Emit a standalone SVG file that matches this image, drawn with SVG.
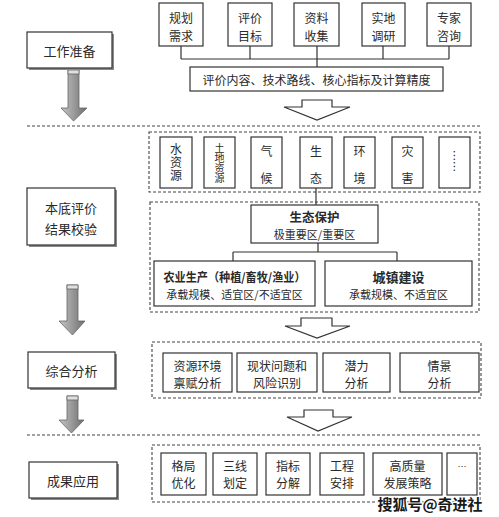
<svg xmlns="http://www.w3.org/2000/svg" width="499" height="517" viewBox="0 0 499 517">
<style>
text{font-family:"Noto Sans CJK SC","Noto Sans",sans-serif;fill:#2a2a2a;text-anchor:middle;dominant-baseline:central}
.v{writing-mode:vertical-rl}
.b{fill:#fff;stroke:#333;stroke-width:1.2}
.sh{fill:#8a8a8a}
.grp{fill:none;stroke:#444;stroke-width:1.1;stroke-dasharray:3 2}
.div{fill:none;stroke:#444;stroke-width:1.1;stroke-dasharray:3 2}
.ln{fill:none;stroke:#333;stroke-width:1.2}
.oa{fill:#fff;stroke:#333;stroke-width:1.2;stroke-linejoin:miter}
.ga{fill:url(#gg);stroke:#666;stroke-width:0.8}
.t12{font-size:12px}
.t13{font-size:13px}
.t11{font-size:11px}
.t9{font-size:9px}
.bd{font-weight:bold}
</style>
<defs>
<linearGradient id="gg" x1="0" y1="0" x2="1" y2="0">
<stop offset="0" stop-color="#c4c4c4"/>
<stop offset="0.5" stop-color="#9a9a9a"/>
<stop offset="1" stop-color="#6e6e6e"/>
</linearGradient>
</defs>
<rect width="499" height="517" fill="#fff"/>

<!-- dividers -->
<line class="div" x1="27" y1="126" x2="481" y2="126"/>
<line class="div" x1="27" y1="435" x2="481" y2="435"/>

<!-- group boxes -->
<rect class="grp" x="149" y="132" width="331" height="60"/>
<rect class="grp" x="150" y="202" width="329" height="110"/>
<rect class="grp" x="152" y="342" width="329" height="56"/>
<rect class="grp" x="152" y="445" width="328" height="57"/>

<!-- connectors -->
<g id="connectors">
<path class="ln" d="M181 46V59M250 46V59M383 46V59M449 46V59M181 59H449M317 46V67"/>
<path class="ln" d="M316 188V205"/>
<path class="ln" d="M318 243V252M233 252H397M233 252V261M397 252V261"/>
<polygon class="oa" points="302,100 332,100 332,107 350,107 317,120 284,107 302,107"/>
<polygon class="oa" points="301,318 332,318 332,326 350,326 317,338 285,326 301,326"/>
<polygon class="oa" points="304,410 333,410 333,417 352,417 318,431 287,417 304,417"/>
<polygon class="ga" points="68,70 79,70 79,108 87,108 73.5,121 61,108 68,108"/>
<rect x="68" y="70" width="11" height="4" fill="#e0e0e0" stroke="#666" stroke-width="0.8"/>
<polygon class="ga" points="67,285 78,285 78,321 85,321 72.5,335 59,321 67,321"/>
<rect x="67" y="285" width="11" height="4" fill="#e0e0e0" stroke="#666" stroke-width="0.8"/>
<polygon class="ga" points="67,396 78,396 78,420 84,420 71.5,433 59,420 67,420"/>
<rect x="67" y="396" width="11" height="4" fill="#e0e0e0" stroke="#666" stroke-width="0.8"/>
</g>

<!-- left stage boxes -->
<g id="stage1">
<rect class="sh" x="29" y="34" width="85" height="36"/>
<rect class="b" x="27" y="32" width="85" height="36"/>
<text class="t13" x="69.5" y="50">工作准备</text>
</g>
<g id="stage2">
<rect class="sh" x="29" y="190" width="88" height="57"/>
<rect class="b" x="27" y="188" width="88" height="57"/>
<text class="t13" x="71" y="207">本底评价</text>
<text class="t13" x="71" y="228">结果校验</text>
</g>
<g id="stage3">
<rect class="sh" x="30" y="354" width="87" height="36"/>
<rect class="b" x="28" y="352" width="87" height="36"/>
<text class="t13" x="71.5" y="370">综合分析</text>
</g>
<g id="stage4">
<rect class="sh" x="31" y="464" width="88" height="36"/>
<rect class="b" x="29" y="462" width="88" height="36"/>
<text class="t13" x="73" y="480">成果应用</text>
</g>

<!-- top row -->
<g id="n-guihua"><rect class="b" x="159" y="3" width="44" height="43"/><text class="t12" x="181" y="17">规划</text><text class="t12" x="181" y="35">需求</text></g>
<g id="n-pingjia"><rect class="b" x="228" y="3" width="44" height="43"/><text class="t12" x="250" y="17">评价</text><text class="t12" x="250" y="35">目标</text></g>
<g id="n-ziliao"><rect class="b" x="294" y="3" width="45" height="43"/><text class="t12" x="316.5" y="17">资料</text><text class="t12" x="316.5" y="35">收集</text></g>
<g id="n-shidi"><rect class="b" x="362" y="3" width="43" height="43"/><text class="t12" x="383.5" y="17">实地</text><text class="t12" x="383.5" y="35">调研</text></g>
<g id="n-zhuanjia"><rect class="b" x="427" y="3" width="44" height="43"/><text class="t12" x="449" y="17">专家</text><text class="t12" x="449" y="35">咨询</text></g>
<g id="n-neirong"><rect class="b" x="190" y="67" width="253" height="24"/><text class="t12" x="316.5" y="79">评价内容、技术路线、核心指标及计算精度</text></g>

<!-- stage 2 elements -->
<g id="n-shui"><rect class="b" x="160" y="137" width="32" height="51"/><text class="t12 v" x="176" y="163" letter-spacing="1">水资源</text></g>
<g id="n-tudi"><rect class="b" x="204" y="137" width="31" height="51"/><text class="v" font-size="10" x="219.5" y="163">土地资源</text></g>
<g id="n-qihou"><rect class="b" x="251" y="137" width="31" height="51"/><text class="t12" x="266.5" y="150">气</text><text class="t12" x="266.5" y="177">候</text></g>
<g id="n-shengtai"><rect class="b" x="300" y="137" width="32" height="51"/><text class="t12" x="316" y="150">生</text><text class="t12" x="316" y="177">态</text></g>
<g id="n-huanjing"><rect class="b" x="344" y="137" width="31" height="51"/><text class="t12" x="359.5" y="150">环</text><text class="t12" x="359.5" y="177">境</text></g>
<g id="n-zaihai"><rect class="b" x="392" y="137" width="31" height="51"/><text class="t12" x="407.5" y="150">灾</text><text class="t12" x="407.5" y="177">害</text></g>
<g id="n-more1"><rect class="b" x="439" y="137" width="31" height="51"/><text class="t11" x="0" y="0" transform="translate(454.5 161) rotate(90)">……</text></g>

<g id="n-baohu"><rect class="b" x="251" y="205" width="127" height="38"/><text class="bd" font-size="12.5" x="314.5" y="216">生态保护</text><text class="t11" x="314.5" y="234">极重要区/重要区</text></g>
<g id="n-nongye"><rect class="b" x="154" y="261" width="161" height="45"/><text class="t12 bd" x="234.5" y="276" textLength="142" lengthAdjust="spacingAndGlyphs">农业生产（种植/畜牧/渔业）</text><text class="t11" x="234.5" y="294">承载规模、适宜区/不适宜区</text></g>
<g id="n-chengzhen"><rect class="b" x="325" y="261" width="147" height="45"/><text class="t13 bd" x="398.5" y="276">城镇建设</text><text class="t11" x="398.5" y="294">承载规模、不适宜区</text></g>

<!-- stage 3 elements -->
<g id="n-ziyuan"><rect class="b" x="163" y="353" width="69" height="39"/><text class="t12" x="197.5" y="365">资源环境</text><text class="t12" x="197.5" y="382">禀赋分析</text></g>
<g id="n-xianzhuang"><rect class="b" x="237" y="353" width="80" height="39"/><text class="t12" x="277" y="365">现状问题和</text><text class="t12" x="277" y="382">风险识别</text></g>
<g id="n-qianli"><rect class="b" x="323" y="353" width="67" height="39"/><text class="t12" x="356.5" y="365">潜力</text><text class="t12" x="356.5" y="382">分析</text></g>
<g id="n-qingjing"><rect class="b" x="400" y="353" width="79" height="39"/><text class="t12" x="439.5" y="365">情景</text><text class="t12" x="439.5" y="382">分析</text></g>

<!-- stage 4 elements -->
<g id="n-geju"><rect class="b" x="161" y="453" width="45" height="42"/><text class="t12" x="183.5" y="465">格局</text><text class="t12" x="183.5" y="482">优化</text></g>
<g id="n-sanxian"><rect class="b" x="213" y="453" width="44" height="42"/><text class="t12" x="235" y="465">三线</text><text class="t12" x="235" y="482">划定</text></g>
<g id="n-zhibiao"><rect class="b" x="266" y="453" width="44" height="42"/><text class="t12" x="288" y="465">指标</text><text class="t12" x="288" y="482">分解</text></g>
<g id="n-gongcheng"><rect class="b" x="320" y="453" width="44" height="42"/><text class="t12" x="342" y="465">工程</text><text class="t12" x="342" y="482">安排</text></g>
<g id="n-gaozhiliang"><rect class="b" x="373" y="453" width="69" height="42"/><text class="t12" x="407.5" y="465">高质量</text><text class="t12" x="407.5" y="482">发展策略</text></g>
<g id="n-more2"><rect class="b" x="447" y="453" width="30" height="42"/><text class="t9" x="462" y="466">…</text></g>

<!-- watermark -->
<text x="430" y="503" font-size="15" font-weight="bold" style="fill:#1a1a1a;stroke:#fff;stroke-width:2;paint-order:stroke">搜狐号@奇进社</text>
</svg>
